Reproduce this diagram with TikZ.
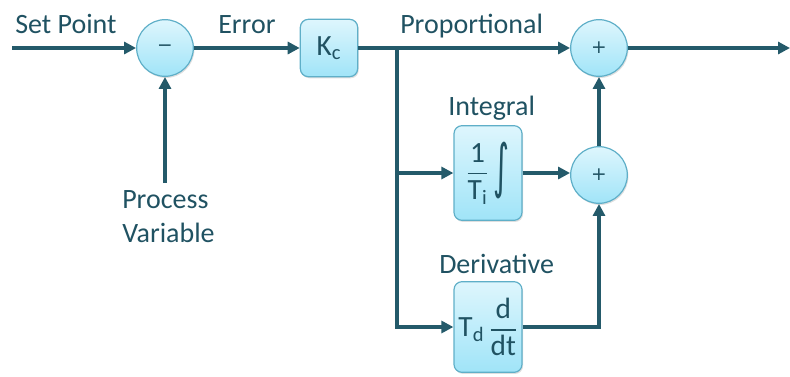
\documentclass[tikz,border=0pt]{standalone}
\usepackage{amsmath}
\usepackage{graphicx}
\usepackage{fontspec}
\setmainfont{Carlito}
\newfontfamily\djv{DejaVu Sans}
\usetikzlibrary{arrows.meta,shadows}
\definecolor{ln}{RGB}{36,90,106}
\definecolor{tx}{RGB}{32,82,98}
\definecolor{ftop}{RGB}{222,246,253}
\definecolor{fbot}{RGB}{160,228,248}
\definecolor{bdr}{RGB}{95,175,200}
\begin{document}
\begin{tikzpicture}[x=0.75pt,y=-0.75pt,
  shade/.style={top color=ftop, bottom color=fbot, draw=bdr, line width=0.9pt,
    drop shadow={opacity=0.25, shadow xshift=0.8pt, shadow yshift=-1.2pt}},
  blk/.style={shade, rounded corners=6pt, text=tx, inner sep=0pt,
    font=\fontsize{22}{24}\selectfont},
  sum/.style={shade, circle, minimum size=42.5pt, inner sep=0pt, text=tx,
    font=\djv\fontsize{14}{16}\selectfont},
  lbl/.style={anchor=base west, inner sep=0pt, text=tx,
    font=\fontsize{21}{25.5}\selectfont},
  con/.style={draw=ln, line width=3pt, -{Triangle[length=9pt,width=9pt]}}
]
\useasboundingbox (0,0) rectangle (790,376);

% summing junctions and blocks
\node[sum] (s1) at (165,48) {−};
\node[blk, minimum width=43pt, minimum height=43pt] (kc) at (329,48) {K\textsubscript{c}};
\node[sum] (s2) at (599,48) {+};
\node[blk, minimum width=51pt, minimum height=71pt] (int) at (488,173)
  {$\dfrac{\text{1}}{\text{T}_{\text{i}}}$\,\raisebox{-4pt}{\scalebox{1.15}[2.2]{\djv\fontsize{20}{20}\selectfont ∫}}};
\node[sum] (s3) at (599,175) {+};
\node[blk, minimum width=51pt, minimum height=68pt] (der) at (488,327)
  {T\textsubscript{d}\,$\dfrac{\text{d}}{\text{dt}}$};

% labels
\node[lbl] (lsp) at (15,33) {Set Point};
\node[lbl] (lerr) at (218,33) {Error};
\node[lbl] (lprop) at (400,33) {Proportional};
\node[lbl] (lint) at (448,115) {Integral};
\node[lbl] (lder) at (439,273) {Derivative};
\node[lbl, align=left] (lpv) at (122,242) {Process\\Variable};

% coordinates
\coordinate (sp) at (12,48);
\coordinate (pv) at (165,183);
\coordinate (out) at (790,48);
\coordinate (br) at (397,48);
\coordinate (bi) at (397,173);

% connectors
\draw[con] (sp) -- (s1);
\draw[con] (pv) -- (s1);
\draw[con] (s1) -- (kc);
\draw[con] (kc) -- (s2);
\draw[con] (s2) -- (out);
\draw[con] (br) |- (der);
\draw[con] (bi) -- (int);
\draw[con] (int) -- (int -| s3.west);
\draw[con] (der) -| (s3);
\draw[con] (s3) -- (s2);
\end{tikzpicture}
\end{document}
